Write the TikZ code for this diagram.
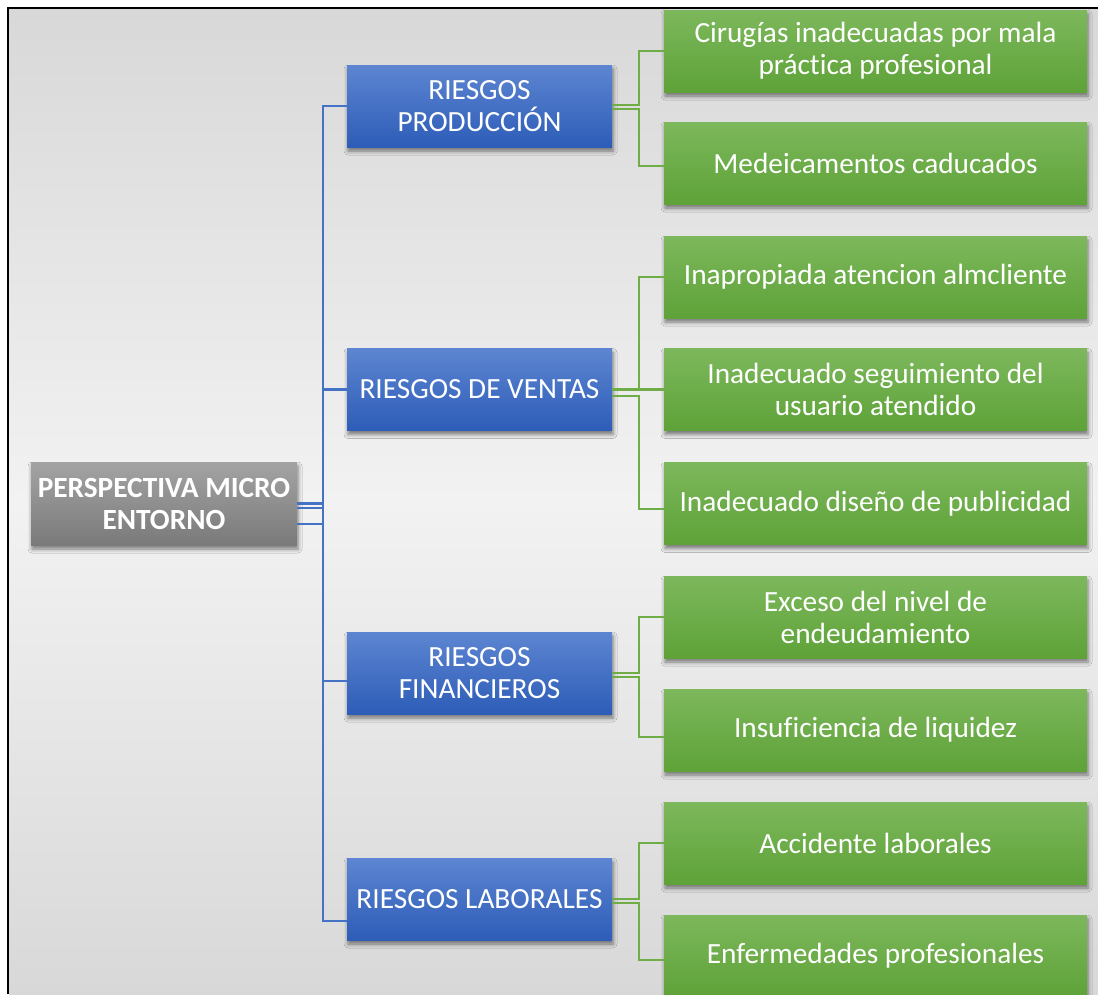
\documentclass[tikz,border=0pt]{standalone}
\usepackage{fontspec}
\setmainfont{Carlito}[Ligatures={NoCommon}]
\usetikzlibrary{shadows.blur}
\definecolor{bgA}{HTML}{D8D8D8}
\definecolor{bgB}{HTML}{F2F2F2}
\definecolor{blueT}{HTML}{5D85D1}
\definecolor{blueB}{HTML}{2D5DB8}
\definecolor{greenT}{HTML}{7DB85C}
\definecolor{greenB}{HTML}{5EA238}
\definecolor{grayT}{HTML}{A3A3A3}
\definecolor{grayB}{HTML}{7A7A7A}
\definecolor{bline}{HTML}{4472C4}
\definecolor{gline}{HTML}{70AD47}
\tikzset{
  boxbase/.style={rectangle, inner sep=0pt, text=white, align=center,
    font=\fontsize{29.3}{32}\selectfont,
    blur shadow={shadow xshift=1pt, shadow yshift=-4pt, shadow blur radius=4pt, shadow opacity=50}},
  rootbox/.style={boxbase, minimum width=266pt, minimum height=83pt,
    top color=grayT, bottom color=grayB, font=\fontsize{29.3}{32}\selectfont\bfseries},
  bluebox/.style={boxbase, minimum width=265pt, minimum height=82pt,
    top color=blueT, bottom color=blueB},
  greenbox/.style={boxbase, minimum width=423pt, minimum height=82pt,
    top color=greenT, bottom color=greenB},
  bcon/.style={draw=bline, line width=2.4pt},
  gcon/.style={draw=gline, line width=2.4pt}
}
\begin{document}
\begin{tikzpicture}[x=1pt,y=-1pt]
\useasboundingbox (0,0) rectangle (1098,994);
\fill[white] (0,0) rectangle (1098,994);
\shade[top color=bgA, bottom color=bgA, middle color=bgB] (9,9) rectangle (1098,994);
\draw[black, line width=2.5pt] (8,994) -- (8,8) -- (1098,8);

% nodes
\node[rootbox] (root) at (164,503.5) {PERSPECTIVA MICRO\\ENTORNO};

\node[bluebox] (p) at (479.5,106) {RIESGOS\\PRODUCCIÓN};
\node[bluebox] (v) at (479.5,389.5) {RIESGOS DE VENTAS};
\node[bluebox] (f) at (479.5,673) {RIESGOS\\FINANCIEROS};
\node[bluebox] (l) at (479.5,899) {RIESGOS LABORALES};

\node[greenbox] (g1) at (875.5,51) {Cirugías inadecuadas por mala\\práctica profesional};
\node[greenbox] (g2) at (875.5,163) {Medeicamentos caducados};
\node[greenbox] (g3) at (875.5,277) {Inapropiada atencion almcliente};
\node[greenbox] (g4) at (875.5,389.5) {Inadecuado seguimiento del\\usuario atendido};
\node[greenbox] (g5) at (875.5,503.5) {Inadecuado diseño de publicidad};
\node[greenbox] (g6) at (875.5,617) {Exceso del nivel de\\endeudamiento};
\node[greenbox] (g7) at (875.5,730) {Insuficiencia de liquidez};
\node[greenbox] (g8) at (875.5,843) {Accidente laborales};
\node[greenbox] (g9) at (875.5,956) {Enfermedades profesionales};

% blue connectors
\draw[bcon] (root.east) -- ++(26,0) |- (p.west);
\draw[bcon] ([yshift=-4.5pt]root.east) -- ++(26,0) |- (v.west);
\draw[bcon] (root.east) -- ++(26,0) |- ([yshift=-8pt]f.west);
\draw[bcon] ([yshift=-20.5pt]root.east) -- ++(26,0) |- ([yshift=-22pt]l.west);

% green connectors
\draw[gcon] ([yshift=1pt]p.east) -- ++(27,0) |- (g1.west);
\draw[gcon] ([yshift=-3pt]p.east) -- ++(27,0) |- ([yshift=-3pt]g2.west);
\draw[gcon] (v.east) -- ++(27,0) |- (g3.west);
\draw[gcon] (v.east) -- (g4.west);
\draw[gcon] ([yshift=-6.5pt]v.east) -- ++(27,0) |- ([yshift=-5.5pt]g5.west);
\draw[gcon] (f.east) -- ++(27,0) |- (g6.west);
\draw[gcon] ([yshift=-4pt]f.east) -- ++(27,0) |- ([yshift=-7pt]g7.west);
\draw[gcon] (l.east) -- ++(27,0) |- (g8.west);
\draw[gcon] ([yshift=-4pt]l.east) -- ++(27,0) |- ([yshift=-4pt]g9.west);
\end{tikzpicture}
\end{document}
